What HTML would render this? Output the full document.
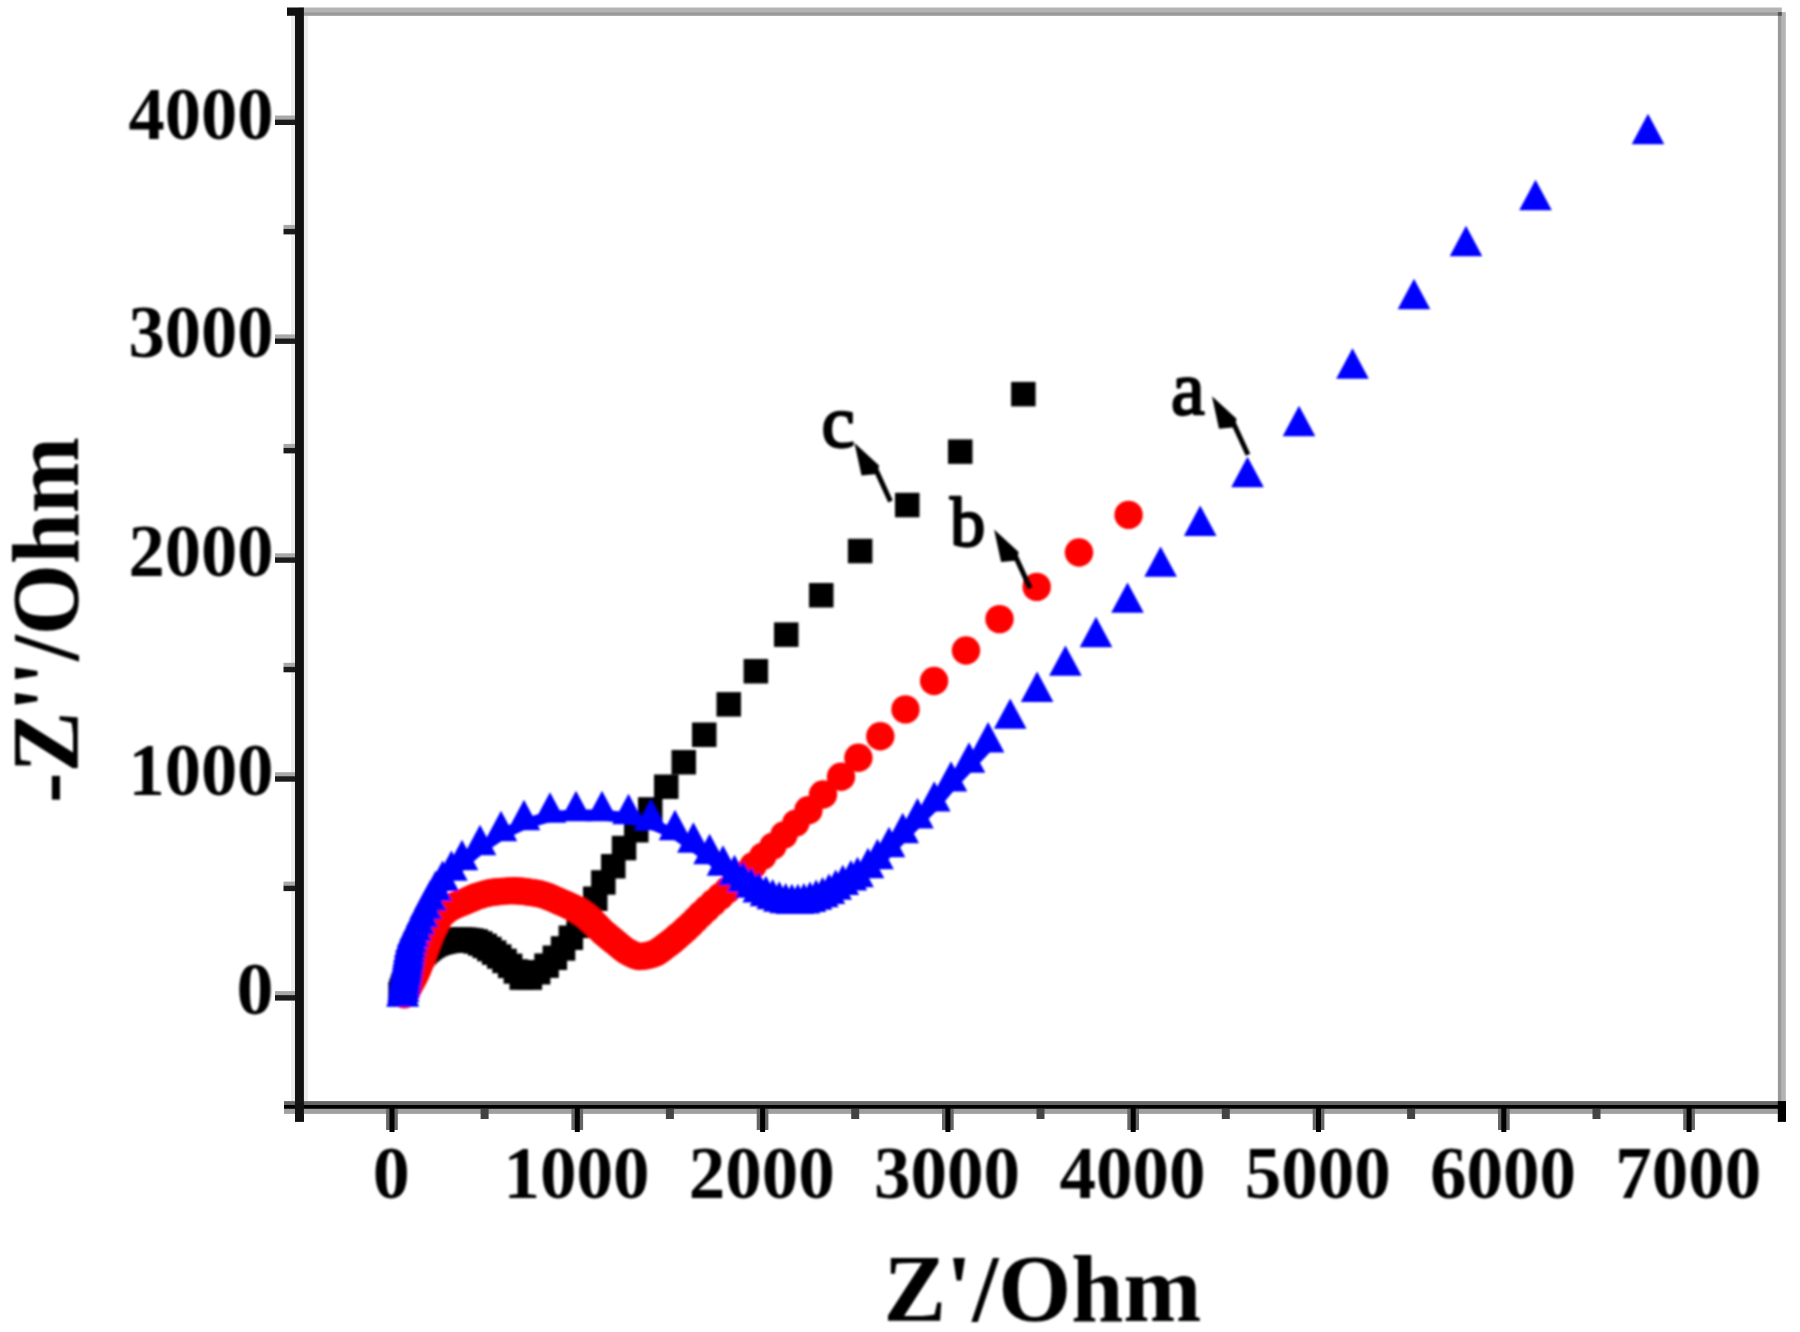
<!DOCTYPE html>
<html lang="en"><head><meta charset="utf-8"><title>Nyquist plot: -Z''/Ohm vs Z'/Ohm</title><style>html,body{margin:0;padding:0;background:#fff}body{width:1800px;height:1332px;overflow:hidden}svg{display:block}</style></head><body>
<svg width="1800" height="1332" viewBox="0 0 1800 1332">
<defs><filter id="soft" x="-2%" y="-2%" width="104%" height="104%"><feGaussianBlur stdDeviation="1.1"/></filter></defs>
<rect width="1800" height="1332" fill="#fff"/>
<g filter="url(#soft)">
<g fill="#000">
<rect x="388.3" y="981.8" width="24.5" height="24.5"/>
<rect x="389.3" y="978.5" width="24.5" height="24.5"/>
<rect x="390.5" y="975.2" width="24.5" height="24.5"/>
<rect x="391.7" y="971.9" width="24.5" height="24.5"/>
<rect x="393.0" y="968.6" width="24.5" height="24.5"/>
<rect x="394.4" y="965.4" width="24.5" height="24.5"/>
<rect x="395.9" y="962.3" width="24.5" height="24.5"/>
<rect x="397.5" y="959.2" width="24.5" height="24.5"/>
<rect x="399.3" y="956.2" width="24.5" height="24.5"/>
<rect x="401.3" y="953.3" width="24.5" height="24.5"/>
<rect x="403.4" y="950.5" width="24.5" height="24.5"/>
<rect x="405.5" y="947.7" width="24.5" height="24.5"/>
<rect x="407.6" y="944.9" width="24.5" height="24.5"/>
<rect x="409.9" y="942.3" width="24.5" height="24.5"/>
<rect x="412.4" y="939.8" width="24.5" height="24.5"/>
<rect x="415.0" y="937.4" width="24.5" height="24.5"/>
<rect x="417.7" y="935.2" width="24.5" height="24.5"/>
<rect x="420.6" y="933.3" width="24.5" height="24.5"/>
<rect x="423.7" y="931.7" width="24.5" height="24.5"/>
<rect x="427.0" y="930.5" width="24.5" height="24.5"/>
<rect x="430.4" y="929.6" width="24.5" height="24.5"/>
<rect x="433.8" y="928.9" width="24.5" height="24.5"/>
<rect x="437.3" y="928.3" width="24.5" height="24.5"/>
<rect x="440.7" y="927.8" width="24.5" height="24.5"/>
<rect x="444.2" y="927.4" width="24.5" height="24.5"/>
<rect x="447.7" y="927.3" width="24.5" height="24.5"/>
<rect x="451.3" y="927.4" width="24.5" height="24.5"/>
<rect x="455.1" y="927.7" width="24.5" height="24.5"/>
<rect x="459.3" y="928.3" width="24.5" height="24.5"/>
<rect x="463.6" y="929.2" width="24.5" height="24.5"/>
<rect x="468.0" y="931.2" width="24.5" height="24.5"/>
<rect x="472.5" y="933.7" width="24.5" height="24.5"/>
<rect x="477.1" y="936.8" width="24.5" height="24.5"/>
<rect x="481.9" y="940.4" width="24.5" height="24.5"/>
<rect x="487.0" y="944.3" width="24.5" height="24.5"/>
<rect x="492.3" y="948.7" width="24.5" height="24.5"/>
<rect x="497.9" y="953.6" width="24.5" height="24.5"/>
<rect x="503.6" y="959.2" width="24.5" height="24.5"/>
<rect x="509.5" y="965.4" width="24.5" height="24.5"/>
<rect x="517.6" y="965.4" width="24.5" height="24.5"/>
<rect x="525.9" y="960.0" width="24.5" height="24.5"/>
<rect x="534.3" y="953.4" width="24.5" height="24.5"/>
<rect x="542.6" y="945.5" width="24.5" height="24.5"/>
<rect x="550.8" y="936.2" width="24.5" height="24.5"/>
<rect x="558.6" y="925.5" width="24.5" height="24.5"/>
<rect x="566.4" y="913.6" width="24.5" height="24.5"/>
<rect x="574.5" y="900.6" width="24.5" height="24.5"/>
<rect x="583.0" y="886.5" width="24.5" height="24.5"/>
<rect x="591.1" y="870.2" width="24.5" height="24.5"/>
<rect x="601.0" y="854.0" width="24.5" height="24.5"/>
<rect x="611.8" y="835.8" width="24.5" height="24.5"/>
<rect x="624.0" y="818.0" width="24.5" height="24.5"/>
<rect x="638.0" y="797.2" width="24.5" height="24.5"/>
<rect x="654.0" y="774.5" width="24.5" height="24.5"/>
<rect x="671.5" y="750.0" width="24.5" height="24.5"/>
<rect x="692.0" y="722.5" width="24.5" height="24.5"/>
<rect x="716.5" y="692.1" width="24.5" height="24.5"/>
<rect x="743.6" y="659.0" width="24.5" height="24.5"/>
<rect x="774.0" y="622.4" width="24.5" height="24.5"/>
<rect x="809.0" y="583.0" width="24.5" height="24.5"/>
<rect x="847.9" y="538.8" width="24.5" height="24.5"/>
<rect x="895.0" y="492.8" width="24.5" height="24.5"/>
<rect x="948.0" y="439.4" width="24.5" height="24.5"/>
<rect x="1011.1" y="381.9" width="24.5" height="24.5"/>
</g>
<g fill="#f00">
<circle cx="404.4" cy="994.8" r="13.7"/>
<circle cx="406.2" cy="991.8" r="13.7"/>
<circle cx="407.9" cy="988.7" r="13.7"/>
<circle cx="409.6" cy="985.7" r="13.7"/>
<circle cx="411.2" cy="982.6" r="13.7"/>
<circle cx="412.9" cy="979.5" r="13.7"/>
<circle cx="414.5" cy="976.4" r="13.7"/>
<circle cx="416.0" cy="973.2" r="13.7"/>
<circle cx="417.5" cy="970.1" r="13.7"/>
<circle cx="418.8" cy="966.8" r="13.7"/>
<circle cx="420.1" cy="963.5" r="13.7"/>
<circle cx="421.2" cy="960.2" r="13.7"/>
<circle cx="422.4" cy="956.9" r="13.7"/>
<circle cx="423.5" cy="953.6" r="13.7"/>
<circle cx="424.6" cy="950.3" r="13.7"/>
<circle cx="425.8" cy="947.0" r="13.7"/>
<circle cx="427.0" cy="943.7" r="13.7"/>
<circle cx="428.2" cy="940.5" r="13.7"/>
<circle cx="429.5" cy="937.2" r="13.7"/>
<circle cx="430.8" cy="933.9" r="13.7"/>
<circle cx="432.2" cy="930.7" r="13.7"/>
<circle cx="433.7" cy="927.6" r="13.7"/>
<circle cx="435.3" cy="924.4" r="13.7"/>
<circle cx="437.0" cy="921.4" r="13.7"/>
<circle cx="438.8" cy="918.4" r="13.7"/>
<circle cx="441.0" cy="915.6" r="13.7"/>
<circle cx="443.4" cy="913.1" r="13.7"/>
<circle cx="446.1" cy="910.9" r="13.7"/>
<circle cx="448.9" cy="908.9" r="13.7"/>
<circle cx="451.9" cy="907.0" r="13.7"/>
<circle cx="455.1" cy="905.5" r="13.7"/>
<circle cx="458.3" cy="904.1" r="13.7"/>
<circle cx="461.5" cy="902.9" r="13.7"/>
<circle cx="464.8" cy="901.6" r="13.7"/>
<circle cx="468.0" cy="900.1" r="13.7"/>
<circle cx="471.2" cy="898.7" r="13.7"/>
<circle cx="474.4" cy="897.3" r="13.7"/>
<circle cx="477.7" cy="896.1" r="13.7"/>
<circle cx="481.0" cy="895.1" r="13.7"/>
<circle cx="484.4" cy="894.1" r="13.7"/>
<circle cx="487.8" cy="893.2" r="13.7"/>
<circle cx="491.2" cy="892.5" r="13.7"/>
<circle cx="494.6" cy="892.0" r="13.7"/>
<circle cx="498.1" cy="891.7" r="13.7"/>
<circle cx="501.6" cy="891.4" r="13.7"/>
<circle cx="505.1" cy="891.1" r="13.7"/>
<circle cx="508.6" cy="890.9" r="13.7"/>
<circle cx="512.1" cy="890.8" r="13.7"/>
<circle cx="515.6" cy="890.8" r="13.7"/>
<circle cx="519.1" cy="891.0" r="13.7"/>
<circle cx="522.6" cy="891.3" r="13.7"/>
<circle cx="526.1" cy="891.7" r="13.7"/>
<circle cx="529.5" cy="892.2" r="13.7"/>
<circle cx="533.0" cy="892.7" r="13.7"/>
<circle cx="536.4" cy="893.3" r="13.7"/>
<circle cx="539.9" cy="894.0" r="13.7"/>
<circle cx="543.2" cy="894.9" r="13.7"/>
<circle cx="546.6" cy="896.0" r="13.7"/>
<circle cx="549.8" cy="897.3" r="13.7"/>
<circle cx="553.1" cy="898.6" r="13.7"/>
<circle cx="556.2" cy="900.1" r="13.7"/>
<circle cx="559.4" cy="901.5" r="13.7"/>
<circle cx="562.6" cy="902.9" r="13.7"/>
<circle cx="565.8" cy="904.3" r="13.7"/>
<circle cx="569.0" cy="905.7" r="13.7"/>
<circle cx="572.2" cy="907.2" r="13.7"/>
<circle cx="575.3" cy="908.8" r="13.7"/>
<circle cx="578.4" cy="910.5" r="13.7"/>
<circle cx="581.3" cy="912.4" r="13.7"/>
<circle cx="584.2" cy="914.4" r="13.7"/>
<circle cx="586.9" cy="916.6" r="13.7"/>
<circle cx="589.6" cy="918.9" r="13.7"/>
<circle cx="592.2" cy="921.2" r="13.7"/>
<circle cx="594.8" cy="923.6" r="13.7"/>
<circle cx="597.2" cy="926.1" r="13.7"/>
<circle cx="599.6" cy="928.7" r="13.7"/>
<circle cx="602.0" cy="931.2" r="13.7"/>
<circle cx="604.6" cy="933.5" r="13.7"/>
<circle cx="607.3" cy="935.8" r="13.7"/>
<circle cx="610.0" cy="938.0" r="13.7"/>
<circle cx="612.7" cy="940.2" r="13.7"/>
<circle cx="615.5" cy="942.4" r="13.7"/>
<circle cx="618.1" cy="944.6" r="13.7"/>
<circle cx="620.8" cy="946.9" r="13.7"/>
<circle cx="623.5" cy="949.1" r="13.7"/>
<circle cx="626.4" cy="951.1" r="13.7"/>
<circle cx="629.5" cy="952.8" r="13.7"/>
<circle cx="632.6" cy="954.4" r="13.7"/>
<circle cx="635.8" cy="955.7" r="13.7"/>
<circle cx="639.2" cy="956.5" r="13.7"/>
<circle cx="642.7" cy="956.3" r="13.7"/>
<circle cx="646.2" cy="955.8" r="13.7"/>
<circle cx="649.6" cy="955.0" r="13.7"/>
<circle cx="652.9" cy="954.0" r="13.7"/>
<circle cx="656.2" cy="952.7" r="13.7"/>
<circle cx="659.3" cy="950.8" r="13.7"/>
<circle cx="662.4" cy="948.5" r="13.7"/>
<circle cx="665.8" cy="945.9" r="13.7"/>
<circle cx="669.4" cy="943.2" r="13.7"/>
<circle cx="673.2" cy="940.2" r="13.7"/>
<circle cx="677.2" cy="936.8" r="13.7"/>
<circle cx="681.5" cy="933.1" r="13.7"/>
<circle cx="686.0" cy="929.0" r="13.7"/>
<circle cx="690.7" cy="924.6" r="13.7"/>
<circle cx="695.7" cy="919.6" r="13.7"/>
<circle cx="701.0" cy="914.3" r="13.7"/>
<circle cx="706.9" cy="908.7" r="13.7"/>
<circle cx="713.3" cy="902.8" r="13.7"/>
<circle cx="720.3" cy="896.5" r="13.7"/>
<circle cx="727.8" cy="889.8" r="13.7"/>
<circle cx="735.7" cy="882.5" r="13.7"/>
<circle cx="744.2" cy="874.4" r="13.7"/>
<circle cx="753.1" cy="865.7" r="13.7"/>
<circle cx="762.8" cy="856.3" r="13.7"/>
<circle cx="773.0" cy="846.1" r="13.7"/>
<circle cx="784.0" cy="835.0" r="13.7"/>
<circle cx="795.8" cy="823.1" r="13.7"/>
<circle cx="808.4" cy="810.3" r="14.2"/>
<circle cx="823.0" cy="794.5" r="14.2"/>
<circle cx="841.0" cy="776.7" r="14.2"/>
<circle cx="858.4" cy="757.7" r="14.2"/>
<circle cx="880.3" cy="736.3" r="14.2"/>
<circle cx="905.5" cy="709.4" r="14.2"/>
<circle cx="934.1" cy="681.0" r="14.2"/>
<circle cx="966.0" cy="650.5" r="14.2"/>
<circle cx="999.5" cy="619.1" r="14.2"/>
<circle cx="1036.7" cy="586.9" r="14.2"/>
<circle cx="1079.0" cy="552.5" r="14.2"/>
<circle cx="1128.6" cy="514.9" r="14.2"/>
</g>
<g fill="#00f">
<path d="M402.6 1000.5L402.7 999.7M402.7 999.7L403.3 995.8M403.3 995.8L403.9 991.8M403.9 991.8L404.5 987.9M404.5 987.9L405.0 983.9M405.0 983.9L405.6 979.9M405.6 979.9L406.2 976.0M406.2 976.0L406.8 972.0M406.8 972.0L407.4 968.1M407.4 968.1L408.0 964.1M408.0 964.1L408.5 960.2M408.5 960.2L409.2 956.0M409.2 956.0L410.0 951.3M410.0 951.3L411.2 946.2M411.2 946.2L413.0 940.7M413.0 940.7L415.6 934.8M415.6 934.8L418.7 928.3M418.7 928.3L422.0 921.1M422.0 921.1L425.7 913.0M425.7 913.0L430.2 904.3M430.2 904.3L435.7 894.8M435.7 894.8L442.6 884.8M442.6 884.8L451.4 874.6M451.4 874.6L462.0 864.0M462.0 864.0L480.0 849.0M480.0 849.0L501.0 835.0M501.0 835.0L524.0 824.0M524.0 824.0L550.0 816.5M550.0 816.5L576.0 815.0M576.0 815.0L602.0 815.0M602.0 815.0L628.5 818.0M628.5 818.0L651.0 824.0M651.0 824.0L675.0 834.0M675.0 834.0L693.4 846.5M693.4 846.5L709.6 858.0M709.6 858.0L723.0 869.5M723.0 869.5L734.5 879.0M734.5 879.0L743.2 885.7M743.2 885.7L751.2 891.5M751.2 891.5L758.7 896.2M758.7 896.2L765.9 900.0M765.9 900.0L772.7 903.1M772.7 903.1L779.3 905.5M779.3 905.5L785.7 907.1M785.7 907.1L791.9 907.9M791.9 907.9L797.9 907.9M797.9 907.9L803.9 907.2M803.9 907.2L810.0 905.7M810.0 905.7L816.1 903.6M816.1 903.6L822.5 901.1M822.5 901.1L829.0 897.8M829.0 897.8L835.7 893.6M835.7 893.6L842.8 888.9M842.8 888.9L850.9 884.3M850.9 884.3L857.5 881.0M857.5 881.0L868.0 872.0M868.0 872.0L877.5 863.0M877.5 863.0L889.0 851.0M889.0 851.0L902.7 837.0M902.7 837.0L917.5 822.2M917.5 822.2L934.3 805.4M934.3 805.4L951.0 785.4M951.0 785.4L969.0 766.5M969.0 766.5L988.1 746.2" stroke="#00f" stroke-width="11" stroke-linecap="butt" fill="none"/>
<path d="M402.6 976.3L418.9 1006.7L386.3 1006.7Z"/>
<path d="M402.7 975.5L419.0 1005.9L386.4 1005.9Z"/>
<path d="M403.3 971.6L419.6 1002.0L387.0 1002.0Z"/>
<path d="M403.9 967.6L420.2 998.0L387.6 998.0Z"/>
<path d="M404.5 963.7L420.8 994.1L388.2 994.1Z"/>
<path d="M405.0 959.7L421.3 990.1L388.7 990.1Z"/>
<path d="M405.6 955.7L421.9 986.1L389.3 986.1Z"/>
<path d="M406.2 951.8L422.5 982.2L389.9 982.2Z"/>
<path d="M406.8 947.8L423.1 978.2L390.5 978.2Z"/>
<path d="M407.4 943.9L423.7 974.3L391.1 974.3Z"/>
<path d="M408.0 939.9L424.3 970.3L391.7 970.3Z"/>
<path d="M408.5 936.0L424.8 966.4L392.2 966.4Z"/>
<path d="M409.2 931.8L425.5 962.2L392.9 962.2Z"/>
<path d="M410.0 927.1L426.3 957.5L393.7 957.5Z"/>
<path d="M411.2 922.0L427.5 952.4L394.9 952.4Z"/>
<path d="M413.0 916.5L429.3 946.9L396.7 946.9Z"/>
<path d="M415.6 910.6L431.9 941.0L399.3 941.0Z"/>
<path d="M418.7 904.1L435.0 934.5L402.4 934.5Z"/>
<path d="M422.0 896.9L438.3 927.3L405.7 927.3Z"/>
<path d="M425.7 888.8L442.0 919.2L409.4 919.2Z"/>
<path d="M430.2 880.1L446.5 910.5L413.9 910.5Z"/>
<path d="M435.7 870.6L452.0 901.0L419.4 901.0Z"/>
<path d="M442.6 860.6L458.9 891.0L426.3 891.0Z"/>
<path d="M451.4 850.4L467.7 880.8L435.1 880.8Z"/>
<path d="M462.0 839.8L478.3 870.2L445.7 870.2Z"/>
<path d="M480.0 824.8L496.3 855.2L463.7 855.2Z"/>
<path d="M501.0 810.8L517.3 841.2L484.7 841.2Z"/>
<path d="M524.0 799.8L540.3 830.2L507.7 830.2Z"/>
<path d="M550.0 792.3L566.3 822.7L533.7 822.7Z"/>
<path d="M576.0 790.8L592.3 821.2L559.7 821.2Z"/>
<path d="M602.0 790.8L618.3 821.2L585.7 821.2Z"/>
<path d="M628.5 793.8L644.8 824.2L612.2 824.2Z"/>
<path d="M651.0 799.8L667.3 830.2L634.7 830.2Z"/>
<path d="M675.0 809.8L691.3 840.2L658.7 840.2Z"/>
<path d="M693.4 822.3L709.7 852.7L677.1 852.7Z"/>
<path d="M709.6 833.8L725.9 864.2L693.3 864.2Z"/>
<path d="M723.0 845.3L739.3 875.7L706.7 875.7Z"/>
<path d="M734.5 854.8L750.8 885.2L718.2 885.2Z"/>
<path d="M743.2 861.5L759.5 891.9L726.9 891.9Z"/>
<path d="M751.2 867.3L767.5 897.7L734.9 897.7Z"/>
<path d="M758.7 872.0L775.0 902.4L742.4 902.4Z"/>
<path d="M765.9 875.8L782.2 906.2L749.6 906.2Z"/>
<path d="M772.7 878.9L789.0 909.3L756.4 909.3Z"/>
<path d="M779.3 881.3L795.6 911.7L763.0 911.7Z"/>
<path d="M785.7 882.9L802.0 913.3L769.4 913.3Z"/>
<path d="M791.9 883.7L808.2 914.1L775.6 914.1Z"/>
<path d="M797.9 883.7L814.2 914.1L781.6 914.1Z"/>
<path d="M803.9 883.0L820.2 913.4L787.6 913.4Z"/>
<path d="M810.0 881.5L826.3 911.9L793.7 911.9Z"/>
<path d="M816.1 879.4L832.4 909.8L799.8 909.8Z"/>
<path d="M822.5 876.9L838.8 907.3L806.2 907.3Z"/>
<path d="M829.0 873.6L845.3 904.0L812.7 904.0Z"/>
<path d="M835.7 869.4L852.0 899.8L819.4 899.8Z"/>
<path d="M842.8 864.7L859.1 895.1L826.5 895.1Z"/>
<path d="M850.9 860.1L867.2 890.5L834.6 890.5Z"/>
<path d="M857.5 856.8L873.8 887.2L841.2 887.2Z"/>
<path d="M868.0 847.8L884.3 878.2L851.7 878.2Z"/>
<path d="M877.5 838.8L893.8 869.2L861.2 869.2Z"/>
<path d="M889.0 826.8L905.3 857.2L872.7 857.2Z"/>
<path d="M902.7 812.8L919.0 843.2L886.4 843.2Z"/>
<path d="M917.5 798.0L933.8 828.4L901.2 828.4Z"/>
<path d="M934.3 781.2L950.6 811.6L918.0 811.6Z"/>
<path d="M951.0 761.2L967.3 791.6L934.7 791.6Z"/>
<path d="M969.0 742.3L985.3 772.7L952.7 772.7Z"/>
<path d="M988.1 722.0L1004.4 752.4L971.8 752.4Z"/>
<path d="M1010.2 698.4L1026.5 728.8L993.9 728.8Z"/>
<path d="M1037.1 671.6L1053.4 702.0L1020.8 702.0Z"/>
<path d="M1065.4 645.4L1081.7 675.8L1049.1 675.8Z"/>
<path d="M1096.0 616.8L1112.3 647.2L1079.7 647.2Z"/>
<path d="M1127.5 582.4L1143.8 612.8L1111.2 612.8Z"/>
<path d="M1160.6 546.4L1176.9 576.8L1144.3 576.8Z"/>
<path d="M1200.2 505.6L1216.5 536.0L1183.9 536.0Z"/>
<path d="M1247.5 456.8L1263.8 487.2L1231.2 487.2Z"/>
<path d="M1299.0 405.8L1315.3 436.2L1282.7 436.2Z"/>
<path d="M1352.5 348.3L1368.8 378.7L1336.2 378.7Z"/>
<path d="M1414.0 278.8L1430.3 309.2L1397.7 309.2Z"/>
<path d="M1466.0 225.8L1482.3 256.2L1449.7 256.2Z"/>
<path d="M1535.5 179.8L1551.8 210.2L1519.2 210.2Z"/>
<path d="M1648.0 113.8L1664.3 144.2L1631.7 144.2Z"/>
</g>
</g>
<rect x="299" y="7.5" width="1482.8" height="4.6" fill="#b4b4b4"/>
<rect x="299" y="12.1" width="1482.8" height="3.7" fill="#999"/>
<rect x="1777.9" y="12.1" width="3.9" height="1092" fill="#999"/>
<rect x="1781.8" y="12.1" width="4" height="1092" fill="#b4b4b4"/>
<rect x="1777.9" y="12.1" width="3.9" height="3.7" fill="#555"/>
<rect x="291.1" y="16" width="16.7" height="1085" fill="#ececec"/>
<rect x="295" y="7.5" width="8.9" height="1114.2" fill="#111"/>
<rect x="287" y="7.5" width="8" height="8.3" fill="#111"/>
<rect x="284" y="1101.1" width="1502" height="3.9" fill="#666"/>
<rect x="284" y="1105" width="1502" height="3.9" fill="#000"/>
<rect x="284" y="1108.9" width="1502" height="5" fill="#a0a0a0"/>
<rect x="295" y="1101.1" width="8.9" height="20.6" fill="#111"/>
<rect x="1777.8" y="1101.1" width="8.2" height="20.8" fill="#000"/>
<rect x="386.1" y="1109" width="11.7" height="21" fill="#666"/>
<rect x="389.5" y="1105" width="5" height="27" fill="#000"/>
<rect x="571.4" y="1109" width="11.7" height="21" fill="#666"/>
<rect x="574.8" y="1105" width="5" height="27" fill="#000"/>
<rect x="756.7" y="1109" width="11.7" height="21" fill="#666"/>
<rect x="760.1" y="1105" width="5" height="27" fill="#000"/>
<rect x="942.0" y="1109" width="11.7" height="21" fill="#666"/>
<rect x="945.4" y="1105" width="5" height="27" fill="#000"/>
<rect x="1127.3" y="1109" width="11.7" height="21" fill="#666"/>
<rect x="1130.7" y="1105" width="5" height="27" fill="#000"/>
<rect x="1312.7" y="1109" width="11.7" height="21" fill="#666"/>
<rect x="1316.0" y="1105" width="5" height="27" fill="#000"/>
<rect x="1498.0" y="1109" width="11.7" height="21" fill="#666"/>
<rect x="1501.3" y="1105" width="5" height="27" fill="#000"/>
<rect x="1683.2" y="1109" width="11.7" height="21" fill="#666"/>
<rect x="1686.6" y="1105" width="5" height="27" fill="#000"/>
<rect x="480.6" y="1109" width="8" height="10" fill="#444"/>
<rect x="665.9" y="1109" width="8" height="10" fill="#444"/>
<rect x="851.2" y="1109" width="8" height="10" fill="#444"/>
<rect x="1036.5" y="1109" width="8" height="10" fill="#444"/>
<rect x="1221.8" y="1109" width="8" height="10" fill="#444"/>
<rect x="1407.1" y="1109" width="8" height="10" fill="#444"/>
<rect x="1592.5" y="1109" width="8" height="10" fill="#444"/>
<rect x="275" y="991.1" width="20" height="4" fill="#a8a8a8"/>
<rect x="275" y="995.1" width="20" height="5.5" fill="#1a1a1a"/>
<rect x="275" y="772.2" width="20" height="4" fill="#a8a8a8"/>
<rect x="275" y="776.2" width="20" height="5.5" fill="#1a1a1a"/>
<rect x="275" y="553.3" width="20" height="4" fill="#a8a8a8"/>
<rect x="275" y="557.3" width="20" height="5.5" fill="#1a1a1a"/>
<rect x="275" y="334.4" width="20" height="4" fill="#a8a8a8"/>
<rect x="275" y="338.4" width="20" height="5.5" fill="#1a1a1a"/>
<rect x="275" y="115.5" width="20" height="4" fill="#a8a8a8"/>
<rect x="275" y="119.5" width="20" height="5.5" fill="#1a1a1a"/>
<rect x="283.5" y="881.6" width="11.5" height="4" fill="#a8a8a8"/>
<rect x="283.5" y="885.6" width="11.5" height="5.5" fill="#1a1a1a"/>
<rect x="283.5" y="662.8" width="11.5" height="4" fill="#a8a8a8"/>
<rect x="283.5" y="666.8" width="11.5" height="5.5" fill="#1a1a1a"/>
<rect x="283.5" y="443.9" width="11.5" height="4" fill="#a8a8a8"/>
<rect x="283.5" y="447.9" width="11.5" height="5.5" fill="#1a1a1a"/>
<rect x="283.5" y="224.9" width="11.5" height="4" fill="#a8a8a8"/>
<rect x="283.5" y="228.9" width="11.5" height="5.5" fill="#1a1a1a"/>
<g filter="url(#soft)">
<g font-family="'Liberation Serif', 'Times New Roman', serif" font-weight="bold" fill="#000">
<text x="372.7" y="1198.2" font-size="73" textLength="37.0" lengthAdjust="spacingAndGlyphs">0</text>
<text x="503.5" y="1198.2" font-size="73" textLength="146.0" lengthAdjust="spacingAndGlyphs">1000</text>
<text x="688.8" y="1198.2" font-size="73" textLength="146.0" lengthAdjust="spacingAndGlyphs">2000</text>
<text x="874.1" y="1198.2" font-size="73" textLength="146.0" lengthAdjust="spacingAndGlyphs">3000</text>
<text x="1059.4" y="1198.2" font-size="73" textLength="146.0" lengthAdjust="spacingAndGlyphs">4000</text>
<text x="1244.7" y="1198.2" font-size="73" textLength="146.0" lengthAdjust="spacingAndGlyphs">5000</text>
<text x="1430.0" y="1198.2" font-size="73" textLength="146.0" lengthAdjust="spacingAndGlyphs">6000</text>
<text x="1615.3" y="1198.2" font-size="73" textLength="146.0" lengthAdjust="spacingAndGlyphs">7000</text>
<text x="236.5" y="1014.1" font-size="73" textLength="37.0" lengthAdjust="spacingAndGlyphs">0</text>
<text x="128.5" y="795.2" font-size="73" textLength="145.0" lengthAdjust="spacingAndGlyphs">1000</text>
<text x="128.5" y="576.3" font-size="73" textLength="145.0" lengthAdjust="spacingAndGlyphs">2000</text>
<text x="128.5" y="357.4" font-size="73" textLength="145.0" lengthAdjust="spacingAndGlyphs">3000</text>
<text x="128.5" y="138.5" font-size="73" textLength="145.0" lengthAdjust="spacingAndGlyphs">4000</text>
<text x="883.5" y="1320.5" font-size="96" textLength="318" lengthAdjust="spacingAndGlyphs">Z'/Ohm</text>
<text transform="translate(78 803) rotate(-90)" font-size="96" textLength="366" lengthAdjust="spacingAndGlyphs">-Z''/Ohm</text>
<g font-weight="normal" stroke="#000" stroke-width="2.4" stroke-linejoin="round">
<text x="1171" y="413.5" font-size="76">a</text>
<text x="950" y="545.5" font-size="70.5">b</text>
<text x="821.5" y="447" font-size="75">c</text>
</g>
</g>
<line x1="1233.5" y1="423.2" x2="1248.0" y2="454.7" stroke="#000" stroke-width="5"/>
<path d="M1212.0 396.2L1236.5 418.7L1235.0 427.2L1219.0 428.7Z" fill="#000"/>
<line x1="1015.6" y1="556.6" x2="1030.1" y2="588.1" stroke="#000" stroke-width="5"/>
<path d="M994.1 529.6L1018.6 552.1L1017.1 560.6L1001.1 562.1Z" fill="#000"/>
<line x1="876.0" y1="469.9" x2="890.5" y2="501.4" stroke="#000" stroke-width="5"/>
<path d="M854.5 442.9L879.0 465.4L877.5 473.9L861.5 475.4Z" fill="#000"/>
</g>
</svg>
</body></html>
